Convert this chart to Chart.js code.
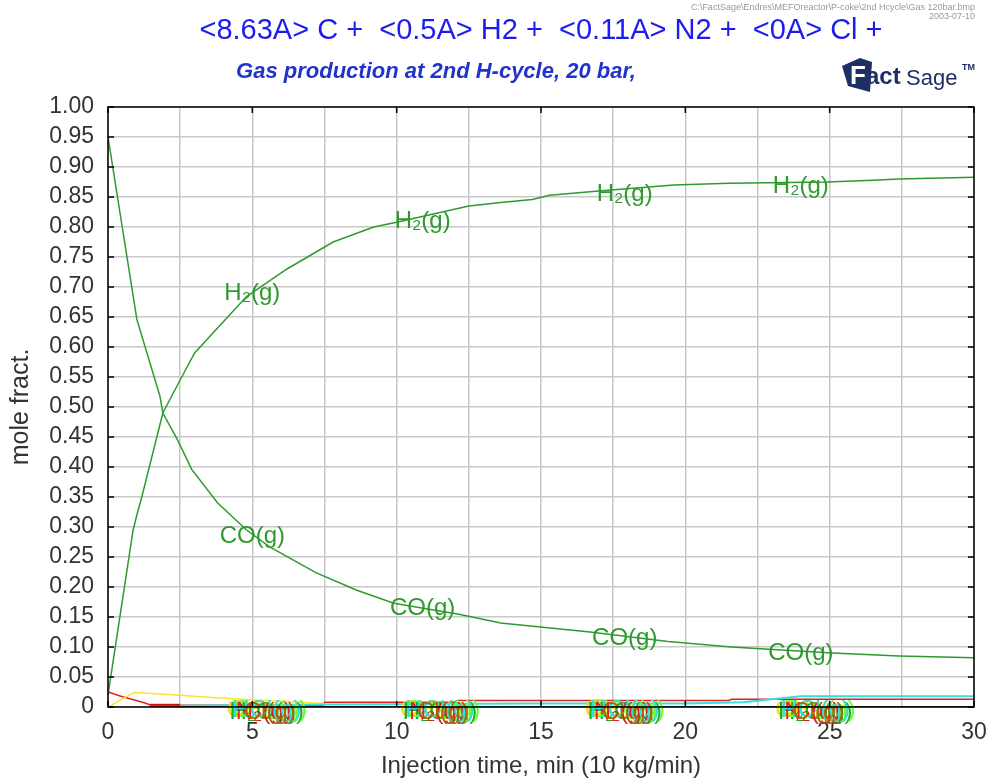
<!DOCTYPE html>
<html>
<head>
<meta charset="utf-8">
<script src="https://cdn.jsdelivr.net/npm/chart.js@4.4.1/dist/chart.umd.min.js"></script>
<style>
  html, body { margin: 0; padding: 0; background: #ffffff; }
  #gasChart { display: block; }
</style>
</head>
<body>
<canvas id="gasChart" width="989" height="782"></canvas>
<script>
// Injection time (min) and mole fractions
const h2Time = [0, 0.87, 1.0, 1.17, 1.9, 2.5, 3.0, 4.8, 6.2, 7.8, 9.2, 10.0, 12.5, 13.6, 14.7, 15.3, 17.0, 19.6, 21.5, 24.9, 26.5, 27.4, 30];
const h2Frac = [0.02, 0.295, 0.32, 0.35, 0.49, 0.545, 0.59, 0.684, 0.73, 0.775, 0.80, 0.808, 0.835, 0.841, 0.846, 0.853, 0.86, 0.87, 0.873, 0.875, 0.878, 0.88, 0.883];

const coTime = [0, 1.0, 1.8, 1.9, 2.4, 2.9, 3.8, 4.8, 5.6, 7.2, 8.6, 9.9, 12.2, 13.6, 16.7, 19.4, 21.6, 22.6, 25.1, 27.4, 30];
const coFrac = [0.95, 0.646, 0.518, 0.49, 0.446, 0.396, 0.34, 0.295, 0.267, 0.224, 0.195, 0.173, 0.154, 0.14, 0.125, 0.109, 0.10, 0.097, 0.09, 0.085, 0.082];

const redTime = [0, 0.5, 1.2, 1.5, 7.45, 7.5, 12.0, 12.1, 21.5, 21.6, 30];
const redFrac = [0.025, 0.017, 0.008, 0.003, 0.003, 0.008, 0.008, 0.011, 0.011, 0.013, 0.013];

const darkRedTime = [1.45, 2.5];
const darkRedFrac = [0.002, 0.002];

const yellowTime = [0, 0.9, 2.4, 3.6, 5.0, 7.5];
const yellowFrac = [0, 0.024, 0.02, 0.016, 0.012, 0.006];

const cyanTime = [2.5, 7.5, 14.5, 20.0, 22.0, 24.0, 30];
const cyanFrac = [0.002, 0.004, 0.006, 0.006, 0.008, 0.018, 0.018];

const tealTime = [2.5, 30];
const tealFrac = [0, 0];

// curve labels [time, fraction]
const h2LabelPos = [[5.0, 0.69], [10.9, 0.81], [17.9, 0.855], [24.0, 0.868]];
const coLabelPos = [[5.0, 0.285], [10.9, 0.165], [17.9, 0.115], [24.0, 0.09]];
const minorLabelTimes = [5.5, 11.5, 17.9, 24.5];
const minorLabels = ["CH₄(g)", "H₂O(g)", "CO₂(g)", "N₂(g)", "HCl(g)", "Cl(g)"];
const minorColors = ["#ffd800", "#22aa22", "#66ff33", "#dd2222", "#33dddd", "#aa6600"];

const yTicks = [1.00, 0.95, 0.90, 0.85, 0.80, 0.75, 0.70, 0.65, 0.60, 0.55, 0.50, 0.45, 0.40, 0.35, 0.30, 0.25, 0.20, 0.15, 0.10, 0.05, 0];
const xTicks = [0, 5, 10, 15, 20, 25, 30];

const FONT = "'Liberation Sans', Arial, sans-serif";
const GREEN = "#2e9a2e";

function toPoints(times, values) {
  return times.map((t, i) => ({ x: t, y: values[i] }));
}

function line(label, times, values, color, width) {
  return {
    label: label,
    data: toPoints(times, values),
    borderColor: color,
    backgroundColor: color,
    borderWidth: width,
    pointRadius: 0,
    tension: 0,
    fill: false
  };
}

const framePlugin = {
  id: "frame",
  afterDraw(chart) {
    const { ctx, chartArea: a, scales } = chart;
    ctx.save();
    ctx.strokeStyle = "#000000";
    ctx.lineWidth = 1.5;
    ctx.strokeRect(a.left, a.top, a.right - a.left, a.bottom - a.top);
    yTicks.forEach(v => {
      const y = scales.y.getPixelForValue(v);
      ctx.beginPath();
      ctx.moveTo(a.left, y); ctx.lineTo(a.left + 6, y);
      ctx.moveTo(a.right, y); ctx.lineTo(a.right - 6, y);
      ctx.stroke();
    });
    xTicks.forEach(v => {
      const x = scales.x.getPixelForValue(v);
      ctx.beginPath();
      ctx.moveTo(x, a.top); ctx.lineTo(x, a.top + 6);
      ctx.moveTo(x, a.bottom); ctx.lineTo(x, a.bottom - 6);
      ctx.stroke();
    });
    ctx.restore();
  }
};

const labelPlugin = {
  id: "curveLabels",
  afterDatasetsDraw(chart) {
    const { ctx, scales } = chart;
    ctx.save();
    ctx.textAlign = "center";
    ctx.textBaseline = "middle";
    ctx.font = "24px " + FONT;
    ctx.fillStyle = GREEN;
    h2LabelPos.forEach(p => {
      ctx.fillText("H₂(g)", scales.x.getPixelForValue(p[0]), scales.y.getPixelForValue(p[1]));
    });
    coLabelPos.forEach(p => {
      ctx.fillText("CO(g)", scales.x.getPixelForValue(p[0]), scales.y.getPixelForValue(p[1]));
    });
    minorLabelTimes.forEach(t => {
      const x = scales.x.getPixelForValue(t);
      const y = scales.y.getPixelForValue(-0.008);
      minorLabels.forEach((txt, i) => {
        ctx.fillStyle = minorColors[i];
        ctx.fillText(txt, x + (i % 3 - 1) * 3, y + (i % 2) * 2 - 1);
      });
    });
    ctx.restore();
  }
};

const headerPlugin = {
  id: "header",
  afterDraw(chart) {
    const ctx = chart.ctx;
    ctx.save();
    ctx.textBaseline = "middle";
    ctx.fillStyle = "#1c1cf0";
    ctx.textAlign = "center";
    ctx.font = "29px " + FONT;
    ctx.fillText("<8.63A> C +  <0.5A> H2 +  <0.11A> N2 +  <0A> Cl +", 541, 31);
    ctx.fillStyle = "#2233cc";
    ctx.font = "italic bold 22px " + FONT;
    ctx.fillText("Gas production at 2nd H-cycle, 20 bar,", 436, 72);
    ctx.fillStyle = "#999999";
    ctx.textAlign = "right";
    ctx.font = "9px " + FONT;
    ctx.fillText("C:\\FactSage\\Endres\\MEFOreactor\\P-coke\\2nd Hcycle\\Gas 120bar.bmp", 975, 8);
    ctx.fillText("2003-07-10", 975, 17);
    // FactSage mark
    ctx.fillStyle = "#1e2f66";
    ctx.beginPath();
    ctx.moveTo(842, 66); ctx.lineTo(860, 58); ctx.lineTo(872, 62); ctx.lineTo(870, 92); ctx.lineTo(848, 86);
    ctx.closePath();
    ctx.fill();
    ctx.textAlign = "left";
    ctx.fillStyle = "#ffffff";
    ctx.font = "bold 26px " + FONT;
    ctx.fillText("F", 850, 77);
    ctx.fillStyle = "#1e2f66";
    ctx.font = "bold 24px " + FONT;
    ctx.fillText("act", 866, 77);
    ctx.font = "22px 'Liberation Sans Narrow', " + FONT;
    ctx.fillText("Sage", 906, 79);
    ctx.font = "bold 9px " + FONT;
    ctx.fillText("TM", 962, 68);
    ctx.restore();
  }
};

new Chart(document.getElementById("gasChart"), {
  type: "line",
  data: {
    datasets: [
      line("teal", tealTime, tealFrac, "#124a4a", 2),
      line("cyan", cyanTime, cyanFrac, "#33e0e0", 2),
      line("yellow", yellowTime, yellowFrac, "#ffe033", 1.5),
      line("red", redTime, redFrac, "#dd2222", 1.5),
      line("darkred", darkRedTime, darkRedFrac, "#b00000", 4),
      line("CO(g)", coTime, coFrac, GREEN, 1.5),
      line("H2(g)", h2Time, h2Frac, GREEN, 1.5)
    ]
  },
  options: {
    responsive: false,
    animation: false,
    layout: { padding: { top: 107, right: 15, bottom: 0, left: 0 } },
    plugins: {
      legend: { display: false },
      tooltip: { enabled: false }
    },
    scales: {
      x: {
        type: "linear",
        min: 0,
        max: 30,
        afterFit: scale => {
          scale.height = 75;
          scale.paddingLeft = 0;
          scale.paddingRight = 0;
        },
        ticks: {
          stepSize: 2.5,
          autoSkip: false,
          maxRotation: 0,
          padding: 12,
          color: "#333333",
          font: { family: FONT, size: 23 },
          callback: v => (v % 5 === 0 ? String(v) : "")
        },
        grid: { color: "#c8c8c8", lineWidth: 1.5, drawTicks: false },
        border: { display: false },
        title: {
          display: true,
          text: "Injection time, min (10 kg/min)",
          color: "#333333",
          font: { family: FONT, size: 24 },
          padding: { top: 0, bottom: 1 }
        }
      },
      y: {
        min: 0,
        max: 1,
        afterFit: scale => {
          scale.width = 108;
          scale.paddingTop = 0;
          scale.paddingBottom = 0;
        },
        afterBuildTicks: scale => {
          scale.ticks = yTicks.map(v => ({ value: v }));
        },
        ticks: {
          autoSkip: false,
          padding: 14,
          color: "#333333",
          font: { family: FONT, size: 23 },
          callback: v => (v === 0 ? "0" : Number(v).toFixed(2))
        },
        grid: { color: "#c8c8c8", lineWidth: 1.5, drawTicks: false },
        border: { display: false },
        title: {
          display: true,
          text: "mole fract.",
          color: "#333333",
          font: { family: FONT, size: 25 },
          padding: { top: 6, bottom: 0 }
        }
      }
    }
  },
  plugins: [framePlugin, labelPlugin, headerPlugin]
});
</script>
</body>
</html>
